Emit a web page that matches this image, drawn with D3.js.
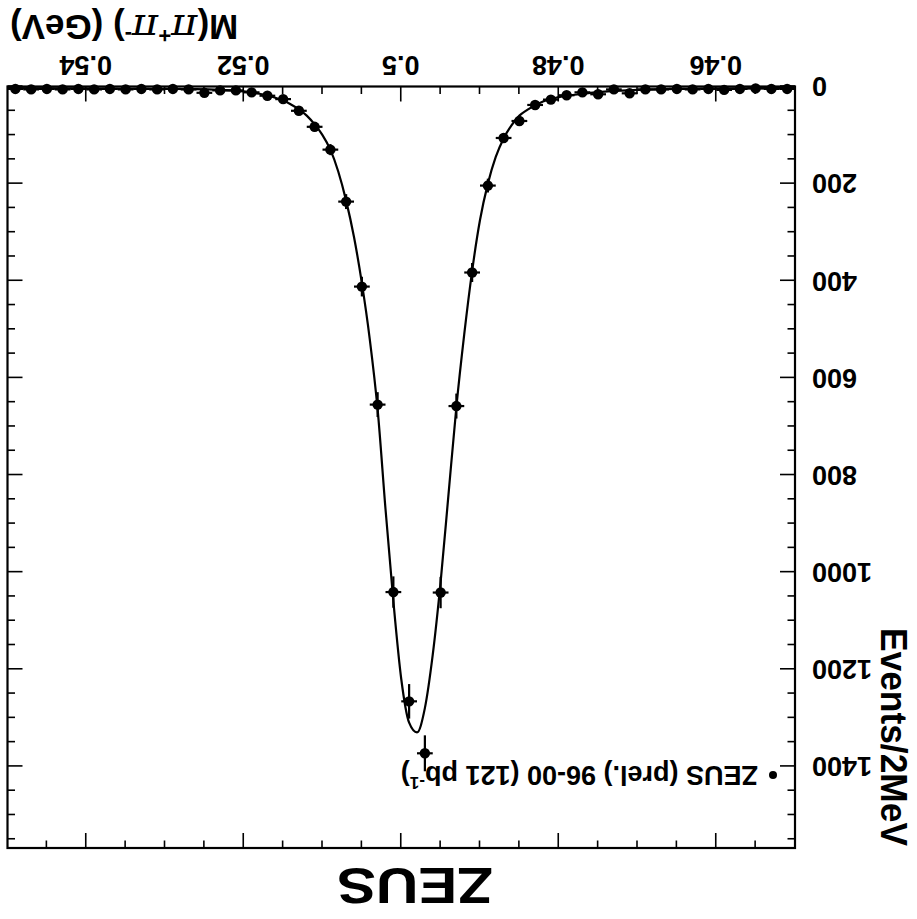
<!DOCTYPE html>
<html>
<head>
<meta charset="utf-8">
<script src="https://cdn.jsdelivr.net/npm/d3@7"></script>
<style>
    body { margin: 0; background: #fff; }
    text { font-family: "Liberation Sans", Arial, Helvetica, sans-serif; font-weight: bold; fill: #000; }
</style>
</head>
<body>
<div id="chart"></div>
<script>
// bin centres of the 2 MeV histogram (GeV)
var binMass = [0.451, 0.453, 0.455, 0.457, 0.459, 0.461, 0.463, 0.465, 0.467, 0.469,
    0.471, 0.473, 0.475, 0.477, 0.479, 0.481, 0.483, 0.485, 0.487, 0.489,
    0.491, 0.493, 0.495, 0.497, 0.499, 0.501, 0.503, 0.505, 0.507, 0.509,
    0.511, 0.513, 0.515, 0.517, 0.519, 0.521, 0.523, 0.525, 0.527, 0.529,
    0.531, 0.533, 0.535, 0.537, 0.539, 0.541, 0.543, 0.545, 0.547, 0.549];
var binCounts = [5, 5, 4, 5, 7, 5, 6, 5, 6, 6,
    14, 6, 16, 12, 18, 27, 38, 71, 106, 204,
    383, 658, 1042, 1373, 1266, 1041, 655, 412, 237, 130,
    83, 50, 26, 19, 12, 8, 8, 13, 6, 5,
    6, 5, 6, 5, 6, 5, 6, 5, 6, 5];
var binErrors = [2.2, 2.2, 2, 2.2, 2.6, 2.2, 2.4, 2.2, 2.4, 2.4,
    3.7, 2.4, 4, 3.5, 4.2, 5.2, 6.2, 8.4, 10.3, 14.3,
    19.6, 25.7, 32.3, 37, 35.6, 32.3, 25.6, 20.3, 15.4, 11.4,
    9.1, 7.1, 5.1, 4.4, 3.5, 2.8, 2.8, 3.6, 2.4, 2.2,
    2.4, 2.2, 2.4, 2.2, 2.4, 2.2, 2.4, 2.2, 2.4, 2.2];

// fitted curve
var fitMass = [0.450, 0.455, 0.460, 0.465, 0.470, 0.473, 0.476, 0.478, 0.480, 0.482,
    0.484, 0.485, 0.486, 0.487, 0.488, 0.489, 0.490, 0.491, 0.492, 0.493,
    0.494, 0.495, 0.496, 0.497, 0.498, 0.499, 0.500, 0.501, 0.502, 0.503,
    0.504, 0.505, 0.506, 0.507, 0.508, 0.509, 0.510, 0.511, 0.512, 0.513,
    0.514, 0.515, 0.516, 0.518, 0.520, 0.523, 0.526, 0.530, 0.540, 0.550];
var fitValue = [3, 3.5, 4, 5, 7, 9, 13, 17, 22, 31,
    48, 60, 80, 107, 145, 200, 275, 380, 510, 660,
    840, 1020, 1170, 1280, 1330, 1310, 1220, 1060, 870, 665,
    520, 405, 310, 235, 175, 130, 100, 78, 60, 47,
    37, 29, 23, 15, 10, 7, 5.5, 5, 4, 3.5];

var xMajor = [0.46, 0.48, 0.50, 0.52, 0.54];
var xMinor = [0.455, 0.465, 0.47, 0.475, 0.485, 0.49, 0.495, 0.505, 0.51, 0.515, 0.525, 0.53, 0.535, 0.545];
var yMajor = [0, 200, 400, 600, 800, 1000, 1200, 1400];
var yMinor = [50, 100, 150, 250, 300, 350, 450, 500, 550, 650, 700, 750, 850, 900, 950,
    1050, 1100, 1150, 1250, 1300, 1350, 1450, 1500, 1550];

var W = 917, H = 919;
var margin = { top: 71, right: 7.5, bottom: 86.5, left: 122 };
var width = W - margin.left - margin.right;
var height = H - margin.top - margin.bottom;

var svg = d3.select('#chart').append('svg')
    .attr('width', W)
    .attr('height', H);

svg.append('rect').attr('width', W).attr('height', H).attr('fill', '#fff');

// the whole picture is upside down
var root = svg.append('g')
    .attr('transform', 'rotate(180,' + (W / 2) + ',' + (H / 2) + ')');

var plot = root.append('g')
    .attr('transform', 'translate(' + margin.left + ',' + margin.top + ')');

var xScale = d3.scaleLinear().domain([0.45, 0.55]).range([0, width]);
var yScale = d3.scaleLinear().domain([0, 1568]).range([height, 0]);

drawAxes();
drawCurve();
drawPoints();
drawLabels();

function styleAxis(g) {
    g.select('.domain').remove();
    g.selectAll('line').attr('stroke', '#000').attr('stroke-width', 1.6);
    g.selectAll('text').style('font-size', '27px');
}

function drawAxes() {
    plot.append('g')
        .attr('transform', 'translate(0,' + height + ')')
        .call(d3.axisBottom(xScale).tickValues(xMajor).tickSize(-15).tickPadding(11)
            .tickFormat(function (d) { return String(+d.toFixed(2)); }))
        .call(styleAxis);
    plot.append('g')
        .attr('transform', 'translate(0,' + height + ')')
        .call(d3.axisBottom(xScale).tickValues(xMinor).tickSize(-7.5).tickFormat(''))
        .call(styleAxis);
    plot.append('g')
        .call(d3.axisTop(xScale).tickValues(xMajor).tickSize(-15).tickFormat(''))
        .call(styleAxis);
    plot.append('g')
        .call(d3.axisTop(xScale).tickValues(xMinor).tickSize(-7.5).tickFormat(''))
        .call(styleAxis);

    plot.append('g')
        .call(d3.axisLeft(yScale).tickValues(yMajor).tickSize(-15).tickPadding(17)
            .tickFormat(d3.format('d')))
        .call(styleAxis);
    plot.append('g')
        .call(d3.axisLeft(yScale).tickValues(yMinor).tickSize(-7.5).tickFormat(''))
        .call(styleAxis);
    plot.append('g')
        .attr('transform', 'translate(' + width + ',0)')
        .call(d3.axisRight(yScale).tickValues(yMajor).tickSize(-15).tickFormat(''))
        .call(styleAxis);
    plot.append('g')
        .attr('transform', 'translate(' + width + ',0)')
        .call(d3.axisRight(yScale).tickValues(yMinor).tickSize(-7.5).tickFormat(''))
        .call(styleAxis);

    plot.append('rect')
        .attr('width', width)
        .attr('height', height)
        .attr('fill', 'none')
        .attr('stroke', '#000')
        .attr('stroke-width', 2.2);
}

function drawCurve() {
    var fit = fitMass.map(function (m, i) { return { m: m, v: fitValue[i] }; });
    var line = d3.line()
        .x(function (d) { return xScale(d.m); })
        .y(function (d) { return yScale(d.v); })
        .curve(d3.curveMonotoneX);

    plot.append('path')
        .datum(fit)
        .attr('d', line)
        .attr('fill', 'none')
        .attr('stroke', '#000')
        .attr('stroke-width', 2.2);
}

function drawPoints() {
    var pts = binMass.map(function (m, i) { return { m: m, v: binCounts[i], e: binErrors[i] }; });
    var g = plot.append('g').selectAll('g')
        .data(pts)
        .enter().append('g');

    g.append('line')
        .attr('x1', function (d) { return xScale(d.m); })
        .attr('x2', function (d) { return xScale(d.m); })
        .attr('y1', function (d) { return yScale(d.v - d.e); })
        .attr('y2', function (d) { return yScale(d.v + d.e); })
        .attr('stroke', '#000')
        .attr('stroke-width', 2.2);
    g.append('line')
        .attr('x1', function (d) { return xScale(d.m - 0.001); })
        .attr('x2', function (d) { return xScale(d.m + 0.001); })
        .attr('y1', function (d) { return yScale(d.v); })
        .attr('y2', function (d) { return yScale(d.v); })
        .attr('stroke', '#000')
        .attr('stroke-width', 2.2);
    g.append('circle')
        .attr('cx', function (d) { return xScale(d.m); })
        .attr('cy', function (d) { return yScale(d.v); })
        .attr('r', 5.2)
        .attr('fill', '#000');
}

function drawLabels() {
    // x title
    var xt = root.append('text')
        .attr('x', 907)
        .attr('y', 904)
        .attr('text-anchor', 'end')
        .style('font-size', '35px');
    xt.append('tspan').text('M(');
    xt.append('tspan').text('π').style('font-family', '"DejaVu Serif", serif').style('font-style', 'italic').style('font-weight', 'normal').style('font-size', '40px');
    xt.append('tspan').text('+').attr('dy', -13).style('font-size', '22px');
    xt.append('tspan').text('π').attr('dy', 13).style('font-family', '"DejaVu Serif", serif').style('font-style', 'italic').style('font-weight', 'normal').style('font-size', '40px');
    xt.append('tspan').text('-').attr('dy', -13).style('font-size', '22px');
    xt.append('tspan').text(') (GeV)').attr('dy', 13);

    // y title
    root.append('text')
        .attr('transform', 'translate(36,' + (margin.top + 2) + ') rotate(-90)')
        .attr('text-anchor', 'end')
        .attr('textLength', 218)
        .attr('lengthAdjust', 'spacingAndGlyphs')
        .style('font-size', '36px')
        .text('Events/2MeV');

    // legend
    root.append('circle')
        .attr('cx', 144)
        .attr('cy', 144)
        .attr('r', 4)
        .attr('fill', '#000');
    var lg = root.append('text')
        .attr('x', 159)
        .attr('y', 153)
        .style('font-size', '27px');
    lg.append('tspan').text('ZEUS (prel.) 96-00 (121 pb');
    lg.append('tspan').text('-1').attr('dy', -11).style('font-size', '17px');
    lg.append('tspan').text(')').attr('dy', 11);

    // ZEUS logo
    root.append('text')
        .attr('x', 502)
        .attr('y', 51)
        .attr('text-anchor', 'middle')
        .attr('textLength', 156)
        .attr('lengthAdjust', 'spacingAndGlyphs')
        .style('font-size', '50px')
        .text('ZEUS');
}
</script>
</body>
</html>
